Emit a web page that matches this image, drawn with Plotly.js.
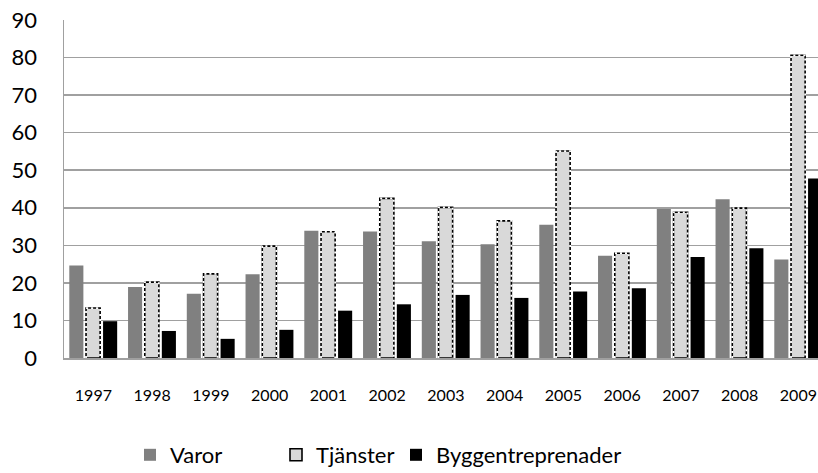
<!DOCTYPE html>
<html>
<head>
<meta charset="utf-8">
<script src="https://cdn.plot.ly/plotly-3.0.1.min.js"></script>
<style>html,body{margin:0;padding:0;background:#fff;}#chart{width:818px;height:473px;}</style>
</head>
<body>
<div id="chart"></div>
<script>
const years = ['1997','1998','1999','2000','2001','2002','2003','2004','2005','2006','2007','2008','2009'];
const varor = [24.6, 18.9, 17.1, 22.3, 33.9, 33.7, 31.1, 30.3, 35.5, 27.2, 39.7, 42.3, 26.2];
const tjanster = [13.3, 20.2, 22.4, 29.8, 33.6, 42.5, 40.1, 36.5, 55.1, 27.9, 38.8, 39.9, 80.6];
const bygg = [9.8, 7.2, 5.1, 7.5, 12.6, 14.3, 16.8, 16.0, 17.7, 18.6, 26.9, 29.2, 47.8];
const yTicks = [0, 10, 20, 30, 40, 50, 60, 70, 80, 90];

const idx = years.map((_, i) => i);
const W = 0.24;
const OFF = [-0.41, -0.125, 0.165];

// dashed outline path for Tjänster bars, built from the data
const ox = [], oy = [];
tjanster.forEach((v, i) => {
  const x0 = i + OFF[1], x1 = x0 + W;
  ox.push(x0, x0, x1, x1, null);
  oy.push(0, v, v, 0, null);
});

const font = 'Lato, "Open Sans", sans-serif';

const traces = [
  {type: 'bar', name: 'Varor', x: idx, y: varor, width: W, offset: OFF[0],
   marker: {color: '#808080', line: {width: 0}}, legend: 'legend', hoverinfo: 'y'},
  {type: 'bar', name: 'Tjänster', x: idx, y: tjanster, width: W, offset: OFF[1],
   marker: {color: '#d9d9d9', line: {color: '#000000', width: 1.6}}, legend: 'legend2', hoverinfo: 'y'},
  {type: 'bar', name: 'Byggentreprenader', x: idx, y: bygg, width: W, offset: OFF[2],
   marker: {color: '#000000', line: {width: 0}}, legend: 'legend3', hoverinfo: 'y'},
  {type: 'scatter', mode: 'lines', x: ox, y: oy, showlegend: false, hoverinfo: 'skip',
   line: {color: '#ffffff', width: 1.8, dash: '2px,3px'}, cliponaxis: true}
];

const legBase = {orientation: 'h', font: {family: font, size: 22, color: '#000'},
  bgcolor: 'rgba(0,0,0,0)', yref: 'container', yanchor: 'middle', y: (473 - 455) / 473,
  xref: 'container', xanchor: 'left'};

const layout = {
  width: 818, height: 473,
  margin: {l: 64, r: 0, t: 20, b: 115, pad: 0},
  paper_bgcolor: '#ffffff', plot_bgcolor: '#ffffff',
  barmode: 'overlay',
  showlegend: true,
  xaxis: {
    range: [-0.5, 12.334], tickmode: 'array', tickvals: idx, ticktext: years,
    showgrid: false, zeroline: false, showline: true, linecolor: '#a0a0a0', linewidth: 1.5,
    ticks: '', ticklabelstandoff: 22, tickfont: {family: font, size: 16, color: '#000'}, fixedrange: true
  },
  yaxis: {
    range: [0, 90], tickmode: 'array', tickvals: yTicks, ticktext: yTicks.map(String),
    showgrid: true, gridcolor: '#a0a0a0', gridwidth: 1.5, zeroline: false,
    showline: true, linecolor: '#a0a0a0', linewidth: 1.5,
    ticks: '', ticklabelstandoff: 21, tickfont: {family: font, size: 22, color: '#000'}, fixedrange: true
  },
  legend: Object.assign({}, legBase, {x: 130 / 818}),
  legend2: Object.assign({}, legBase, {x: 276 / 818}),
  legend3: Object.assign({}, legBase, {x: 396 / 818})
};

Plotly.newPlot('chart', traces, layout, {displayModeBar: false, staticPlot: true});
</script>
</body>
</html>
